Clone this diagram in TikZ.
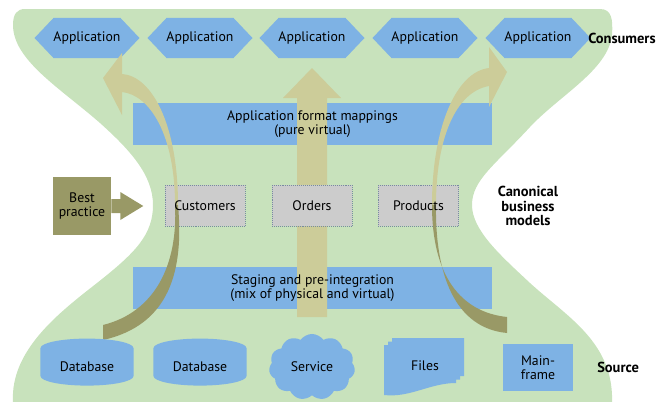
\documentclass[tikz,border=0pt]{standalone}
\usepackage{fontspec}
\setmainfont{PT Sans}
\usetikzlibrary{shapes.geometric,shapes.symbols}

\definecolor{bggreen}{RGB}{200,226,188}
\definecolor{appblue}{RGB}{126,178,228}
\definecolor{khaki}{RGB}{204,204,153}
\definecolor{olive}{RGB}{153,153,102}
\definecolor{boxgray}{RGB}{204,204,204}
\definecolor{dotgray}{RGB}{120,140,160}

\begin{document}
\begin{tikzpicture}[x=0.025cm,y=-0.025cm,font=\fontsize{9.8}{10}\selectfont,
    app/.style={signal, signal to=west and east, signal pointer angle=93, fill=appblue,
      minimum width=2.375cm, minimum height=1cm, inner sep=0pt},
    bar/.style={rectangle, fill=appblue, minimum width=8.975cm, minimum height=1.05cm},
    model/.style={rectangle, fill=boxgray, draw=dotgray, densely dotted,
      minimum width=2cm, minimum height=1.025cm},
    src/.style={fill=appblue, inner sep=0pt, align=center},
    db/.style={src, cylinder, shape border rotate=90, aspect=0.35,
      minimum width=2.325cm, minimum height=1.175cm},
    tag/.style={font=\fontsize{10.3}{10.3}\selectfont\bfseries, align=center}]

    \useasboundingbox (0,0) rectangle (660,402);

    % background shape
    \fill[bggreen] (25,9) -- (600,9) .. controls (612,9) and (613,20) .. (612,35)
      .. controls (608,70) and (560,95) .. (530,127)
      .. controls (495,165) and (472,180) .. (472,205)
      .. controls (472,230) and (500,255) .. (530,283)
      .. controls (565,315) and (610,340) .. (612,395) -- (612,402) -- (13,402)
      .. controls (10,350) and (60,312) .. (97,283)
      .. controls (135,253) and (153,235) .. (153,205)
      .. controls (153,175) and (130,150) .. (100,123)
      .. controls (60,88) and (13,60) .. (13,25)
      .. controls (13,14) and (17,9) .. (25,9) -- cycle;

    % consumers
    \foreach \i/\x in {1/87,2/200,3/312,4/425,5/538}
      \node[app] (app\i) at (\x,38) {Application};
    \node[tag, anchor=west, inner sep=0pt] (consumers) at (588,38) {Consumers};

    % mapping layers
    \node[bar] (mapbar) at (312.5,124) {};
    \node[bar] (stagebar) at (312.5,288) {};

    % straight arrow
    \fill[khaki] (297,317) -- (297,98) -- (283,98) -- (312,68) -- (341,98) -- (327,98) -- (327,317) -- cycle;

    % canonical models
    \node[model] (cust) at (205,205.5) {};
    \node[model] (orders) at (312,205.5) {};
    \node[model] (prods) at (418.5,205.5) {};
    \node[tag] (canon) at (528,206) {Canonical\\business\\models};

    % best practice
    \node[fill=olive, minimum width=1.45cm, minimum height=1.45cm, align=center, inner sep=0pt] (best) at (82,206) {Best\\practice};
    \fill[olive] (best.east) ++(0,-7) -- ++(9,0) -- ++(0,-7) -- ++(23,14) -- ++(-23,14) -- ++(0,-7) -- ++(-9,0) -- cycle;

    % curved arrows, upper part
    \fill[khaki] (122,53) -- (122,74) .. controls (152,76) and (178,125) .. (178,205)
      -- (175,205) .. controls (175,135) and (150,95) .. (122,92) -- (122,115) -- (103,78) -- cycle;
    \fill[khaki] (489,47) -- (507,72) -- (489,107) -- (489,86) .. controls (455,92) and (436,140) .. (436,205)
      -- (432,205) .. controls (432,130) and (455,72) .. (489,68) -- cycle;

    % curved arrows, lower part
    \fill[olive] (175,205) -- (178,205) .. controls (184,270) and (170,325) .. (103,340)
      -- (103,325) .. controls (155,312) and (178,265) .. (175,205) -- cycle;
    \fill[olive] (432,205) .. controls (432,275) and (460,312) .. (507,317)
      -- (507,333) .. controls (455,328) and (435,275) .. (436,205) -- cycle;

    % texts over the arrows
    \node[align=center] (maptext) at (mapbar) {Application format mappings\\(pure virtual)};
    \node[align=center] (stagetext) at (stagebar) {Staging and pre-integration\\(mix of physical and virtual)};
    \node (custtext) at (cust) {Customers};
    \node (ordertext) at (orders) {Orders};
    \node (prodtext) at (prods) {Products};

    % sources
    \node[db] (db1) at (87,367) {Database};
    \node[db] (db2) at (200,367) {Database};
    \node[src, cloud, cloud puffs=11, cloud puff arc=110, minimum width=2.15cm, minimum height=1.6cm] (svc) at (312,367) {Service};
    \foreach \d in {8,4,0}
      \fill[appblue, shift={({\d},{-0.875*\d})}] (384,345) -- (456,345) -- (456,383)
        .. controls (430,383) and (410,398) .. (384,395) -- cycle;
    \node (files) at (425,366) {Files};
    \node[src, minimum width=1.75cm, minimum height=1.175cm] (mainfr) at (538,367.5) {Main-\\frame};
    \node[tag, anchor=west, inner sep=0pt] (source) at (597,367) {Source};
\end{tikzpicture}
\end{document}
